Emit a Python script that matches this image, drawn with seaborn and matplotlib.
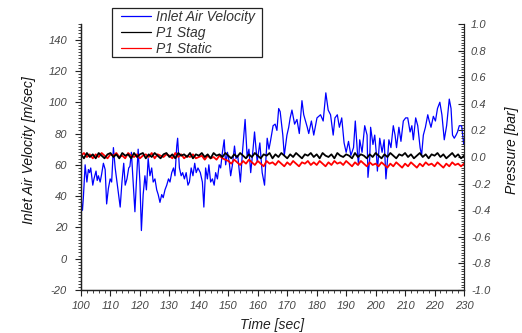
import matplotlib
matplotlib.use("Agg")
import matplotlib.pyplot as plt
import seaborn as sns
import pandas as pd
from matplotlib.ticker import MultipleLocator, FormatStrFormatter
from matplotlib.lines import Line2D
from matplotlib.patches import Rectangle

# ---------------- data ----------------
vel_time = [100.0, 100.2, 100.5, 100.8, 101.4, 102.0, 102.5, 102.9, 103.3, 104.0,
            104.4, 105.1, 105.5, 105.9, 106.5, 107.0, 107.6, 108.2, 108.7, 109.3,
            109.9, 110.4, 111.0, 111.6, 112.2, 112.7, 113.3, 113.9, 114.5, 115.0,
            115.6, 116.2, 116.6, 117.1, 117.7, 118.3, 118.8, 119.4, 120.0, 120.5,
            121.1, 121.7, 122.2, 122.8, 123.4, 124.0, 124.5, 125.1, 125.7, 126.2,
            126.8, 127.4, 127.9, 128.5, 129.1, 129.7, 130.2, 130.8, 131.4, 131.9,
            132.5, 132.8, 133.4, 134.0, 134.5, 135.1, 135.7, 136.3, 136.8, 137.4,
            138.0, 138.6, 139.1, 139.7, 140.5, 141.2, 141.7, 142.3, 142.9, 143.4,
            144.0, 144.6, 145.2, 145.7, 146.3, 146.9, 147.4, 148.0, 148.6, 149.1,
            149.7, 150.3, 150.8, 151.4, 152.1, 152.6, 153.2, 154.1, 154.8, 155.7,
            156.4, 157.0, 157.6, 158.3, 158.9, 159.8, 160.7, 161.5, 162.3, 162.8,
            163.2, 163.8, 164.3, 165.2, 165.9, 166.5, 167.1, 167.6, 168.5, 169.0,
            169.9, 170.5, 171.0, 171.6, 172.5, 173.3, 174.1, 175.0, 175.6, 176.2,
            176.8, 177.3, 178.2, 179.0, 179.6, 180.1, 181.3, 182.2, 183.1, 183.9,
            184.7, 185.6, 186.2, 187.0, 187.7, 188.5, 189.3, 190.0, 190.8, 191.6,
            192.5, 193.1, 193.9, 194.2, 194.6, 195.4, 196.3, 197.1, 197.4, 198.0,
            198.3, 199.1, 199.7, 200.3, 200.6, 201.4, 202.2, 202.9, 203.5, 203.9,
            204.5, 205.2, 206.0, 206.6, 207.1, 207.9, 208.6, 209.4, 210.2, 210.9,
            211.7, 212.3, 212.8, 213.6, 214.3, 215.1, 215.6, 216.2, 216.9, 217.7,
            218.2, 218.8, 219.6, 220.3, 221.0, 221.8, 222.5, 223.3, 224.1, 225.0,
            225.6, 226.1, 226.7, 227.3, 227.8, 228.4, 229.2, 229.9, 230.0]
vel_vals = [44, 34, 31, 39, 60, 49, 57, 55, 58, 47,
            51, 56, 50, 53, 49, 54, 61, 57, 35, 45,
            51, 49, 71, 58, 49, 41, 33, 49, 61, 47,
            51, 58, 59, 68, 49, 30, 49, 70, 49, 18,
            41, 53, 44, 64, 53, 58, 49, 51, 44, 41,
            36, 41, 39, 44, 47, 51, 49, 55, 58, 53,
            72, 77, 58, 53, 55, 51, 55, 47, 49, 58,
            53, 61, 55, 58, 55, 49, 33, 58, 51, 60,
            49, 51, 47, 55, 51, 60, 58, 68, 76, 60,
            68, 62, 53, 60, 72, 64, 66, 49, 68, 89,
            65, 70, 55, 68, 81, 62, 74, 55, 47, 65,
            77, 70, 75, 85, 86, 82, 96, 94, 79, 66,
            79, 84, 90, 95, 86, 89, 80, 101, 92, 88,
            84, 80, 88, 79, 85, 90, 92, 88, 106, 95,
            92, 79, 90, 92, 84, 90, 74, 68, 75, 66,
            71, 88, 66, 60, 76, 68, 85, 79, 52, 64,
            84, 73, 79, 66, 56, 77, 68, 76, 51, 60,
            76, 71, 85, 79, 71, 84, 75, 88, 90, 90,
            81, 85, 76, 90, 85, 71, 66, 79, 84, 92,
            88, 84, 91, 88, 96, 100, 92, 76, 85, 102,
            96, 79, 77, 79, 81, 85, 85, 73, 76]

p_time = list(range(100, 231))
p_stag = [0.02, -0.01, 0.03, 0.00, 0.02, -0.01, 0.03, 0.01, -0.01, 0.02,
          0.03, 0.00, 0.02, -0.01, 0.03, 0.01, 0.02, -0.01, 0.03, 0.00,
          0.02, 0.03, -0.01, 0.02, 0.00, 0.03, 0.01, -0.01, 0.02, 0.03,
          0.00, 0.02, -0.01, 0.03, 0.01, 0.02, 0.00, 0.03, -0.01, 0.02,
          0.01, 0.03, 0.00, 0.02, -0.01, 0.03, 0.01, 0.02, 0.00, 0.03,
          0.01, -0.01, 0.02, 0.00, 0.03, 0.01, -0.01, 0.02, 0.00, 0.03,
          0.01, -0.01, 0.02, 0.01, 0.03, -0.01, 0.02, 0.00, 0.03, 0.01,
          -0.01, 0.02, 0.00, 0.03, 0.01, -0.01, 0.02, 0.01, 0.03, 0.00,
          0.02, -0.01, 0.03, 0.01, 0.00, 0.02, -0.01, 0.03, 0.01, 0.00,
          0.02, 0.01, -0.01, 0.03, 0.00, 0.02, 0.01, -0.01, 0.02, 0.00,
          0.03, 0.01, -0.01, 0.02, 0.00, 0.03, 0.01, -0.01, 0.02, 0.01,
          0.03, 0.00, 0.02, -0.01, 0.01, 0.03, 0.00, 0.02, -0.01, 0.02,
          0.01, 0.03, 0.00, 0.02, -0.01, 0.01, 0.03, 0.00, 0.02, -0.01,
          0.01]
p_static = [0.01, 0.03, 0.00, 0.02, -0.01, 0.02, 0.00, 0.03, 0.01, -0.01,
            0.02, 0.01, 0.03, 0.00, 0.01, -0.01, 0.03, 0.01, 0.00, 0.02,
            -0.01, 0.01, 0.02, 0.00, 0.03, -0.01, 0.02, 0.01, 0.00, 0.02,
            0.01, -0.01, 0.03, 0.00, 0.02, -0.01, 0.01, 0.00, 0.02, -0.01,
            0.00, 0.01, -0.02, 0.01, -0.01, 0.00, -0.02, 0.01, -0.01, -0.02,
            -0.03, -0.05, -0.02, -0.04, -0.06, -0.03, -0.05, -0.02, -0.04, -0.06,
            -0.03, -0.05, -0.07, -0.03, -0.05, -0.04, -0.06, -0.03, -0.05, -0.07,
            -0.04, -0.06, -0.03, -0.05, -0.07, -0.04, -0.05, -0.03, -0.06, -0.04,
            -0.06, -0.03, -0.05, -0.07, -0.04, -0.06, -0.03, -0.05, -0.04, -0.06,
            -0.03, -0.05, -0.07, -0.04, -0.06, -0.03, -0.05, -0.07, -0.04, -0.06,
            -0.05, -0.07, -0.04, -0.06, -0.08, -0.05, -0.07, -0.04, -0.06, -0.08,
            -0.05, -0.07, -0.04, -0.06, -0.08, -0.05, -0.07, -0.04, -0.06, -0.05,
            -0.07, -0.04, -0.06, -0.08, -0.05, -0.07, -0.04, -0.06, -0.05, -0.07,
            -0.05]

labels = ["Inlet Air Velocity", "P1 Stag", "P1 Static"]
colors = ["#0000ff", "#000000", "#ff0000"]

# ---------------- style ----------------
sns.set_style("ticks")
plt.rcParams["font.family"] = ["Liberation Sans", "DejaVu Sans"]
plt.rcParams["font.style"] = "italic"
plt.rcParams["axes.unicode_minus"] = False

fig = plt.figure(figsize=(5.22, 3.33), dpi=100)
ax = fig.add_axes([81 / 522, 1 - 290 / 333, (464 - 81) / 522, (290 - 24) / 333])
ax2 = ax.twinx()

vel_df = pd.DataFrame({"t": vel_time, "v": vel_vals})
p_df = pd.DataFrame({"t": p_time, "stag": p_stag, "static": p_static})

sns.lineplot(data=vel_df, x="t", y="v", ax=ax, color=colors[0], linewidth=0.9,
             estimator=None, sort=False)
sns.lineplot(data=p_df, x="t", y="static", ax=ax2, color=colors[2], linewidth=1.3,
             estimator=None, sort=False)
sns.lineplot(data=p_df, x="t", y="stag", ax=ax2, color=colors[1], linewidth=1.3,
             estimator=None, sort=False)

ax.set_xlim(100, 230)
ax.set_ylim(-20, 150)
ax2.set_ylim(-1.0, 1.0)

tick_color = "#444444"
ax.xaxis.set_major_locator(MultipleLocator(10))
ax.xaxis.set_minor_locator(MultipleLocator(2))
ax.yaxis.set_minor_locator(MultipleLocator(2))
ax.set_yticks(range(-20, 141, 20))
ax2.yaxis.set_major_locator(MultipleLocator(0.2))
ax2.yaxis.set_minor_locator(MultipleLocator(0.02))
ax2.yaxis.set_major_formatter(FormatStrFormatter("%.1f"))

ax.tick_params(axis="y", which="major", direction="out", length=4, width=0.8,
               labelsize=8, labelcolor=tick_color, color="#222222", pad=6)
ax.tick_params(axis="x", which="major", direction="out", length=4, width=0.8,
               labelsize=8, labelcolor=tick_color, color="#222222", pad=4)
ax.tick_params(axis="both", which="minor", direction="out", length=2, width=0.6,
               color="#222222")
ax2.tick_params(axis="y", which="major", direction="in", length=4, width=0.8,
                labelsize=8, labelcolor=tick_color, color="#222222", pad=5)
ax2.tick_params(axis="y", which="minor", direction="in", length=2, width=0.6,
                color="#222222")
for a in (ax, ax2):
    for lab in a.get_xticklabels() + a.get_yticklabels():
        lab.set_fontstyle("italic")

for a in (ax, ax2):
    a.spines["top"].set_visible(False)
    for s in ("left", "right", "bottom"):
        a.spines[s].set_linewidth(0.9)
        a.spines[s].set_color("#222222")
ax.spines["right"].set_visible(False)

ax.set_xlabel("Time [sec]", fontsize=10, fontstyle="italic", color="#222222", labelpad=5)
ax.set_ylabel("Inlet Air Velocity [m/sec]", fontsize=10, fontstyle="italic",
              color="#111111")
ax2.set_ylabel("Pressure [bar]", fontsize=10, fontstyle="italic", color="#111111",
               rotation=90)
ax.yaxis.set_label_coords(-0.118, 0.525)
ax2.yaxis.set_label_coords(1.108, 0.525)

# legend frame (figure pixels 112..262 x 8..57)
fig.patches.append(Rectangle((112 / 522, 1 - 57 / 333), 150 / 522, 49 / 333,
                             transform=fig.transFigure, facecolor="white",
                             edgecolor="#222222", linewidth=0.9, zorder=5))
handles = [Line2D([0], [0], color=c, linewidth=0.9) for c in colors]
leg = fig.legend(handles, labels, loc="upper left",
                 bbox_to_anchor=(121 / 522, 1 - 9.5 / 333),
                 frameon=False, fontsize=10, handlelength=2.15, handletextpad=0.35,
                 labelspacing=0.15, borderpad=0.0, borderaxespad=0)
leg.set_zorder(6)
for t in leg.get_texts():
    t.set_fontstyle("italic")
    t.set_color("#333333")

fig.savefig("out.png", dpi=100)
